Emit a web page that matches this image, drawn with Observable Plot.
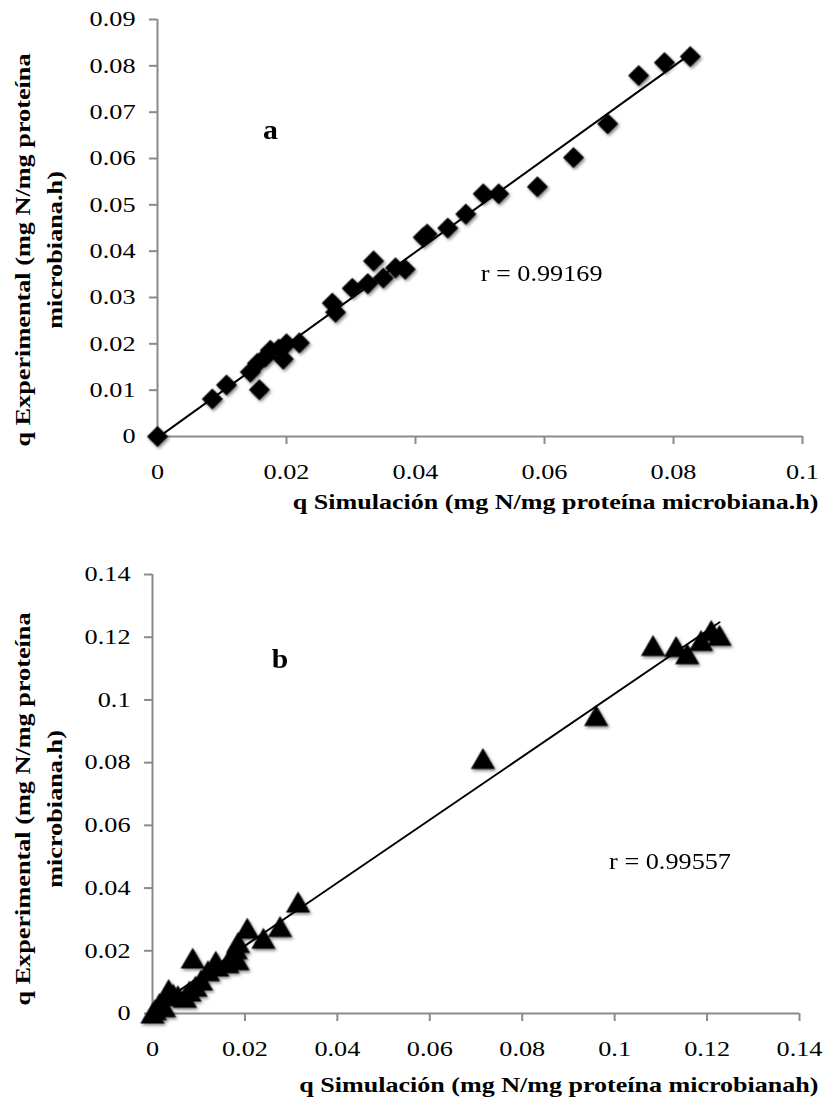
<!DOCTYPE html>
<html><head><meta charset="utf-8">
<script src="https://cdn.jsdelivr.net/npm/d3@7"></script>
<script src="https://cdn.jsdelivr.net/npm/@observablehq/plot@0.6"></script>
<style>
html,body{margin:0;padding:0;background:#fff;}
#chart{width:839px;}
#chart svg{display:block;}
</style></head>
<body><div id="chart"></div>
<script>
// ---- Panel a data ----
const simA = [0, 0.0085, 0.0107, 0.0158, 0.0144, 0.0155, 0.0167, 0.0175, 0.0188, 0.0195, 0.0200, 0.0220,
  0.0271, 0.0276, 0.0302, 0.0326, 0.0335, 0.0350, 0.0369, 0.0384, 0.0412, 0.0418, 0.0450, 0.0478,
  0.0505, 0.0529, 0.0589, 0.0645, 0.0698, 0.0746, 0.0786, 0.0826];
const expA = [0, 0.0081, 0.0111, 0.0101, 0.0139, 0.0158, 0.0171, 0.0186, 0.0189, 0.0167, 0.0200, 0.0202,
  0.0288, 0.0268, 0.0320, 0.0330, 0.0379, 0.0342, 0.0364, 0.0361, 0.0430, 0.0437, 0.0450, 0.0480,
  0.0524, 0.0524, 0.0539, 0.0602, 0.0675, 0.0779, 0.0807, 0.0820];
// ---- Panel b data ----
const simB = [0, 0.0005, 0.0015, 0.0025, 0.0035, 0.0045, 0.0055, 0.0070, 0.0080, 0.0093, 0.0087, 0.0105,
  0.0120, 0.0137, 0.0140, 0.0162, 0.0184, 0.0180, 0.0185, 0.0205, 0.0240, 0.0276, 0.0315,
  0.0715, 0.0960, 0.1083, 0.1133, 0.1157, 0.1187, 0.1209, 0.1227];
const expB = [0, 0.0010, 0.0030, 0.0020, 0.0075, 0.0060, 0.0055, 0.0050, 0.0070, 0.0085, 0.0175, 0.0105,
  0.0135, 0.0165, 0.0150, 0.0160, 0.0170, 0.0205, 0.0225, 0.0270, 0.0238, 0.0276, 0.0354,
  0.0812, 0.0949, 0.1172, 0.1169, 0.1146, 0.1188, 0.1220, 0.1205];

const xTicksA = [0, 0.02, 0.04, 0.06, 0.08, 0.1];
const yTicksA = [0, 0.01, 0.02, 0.03, 0.04, 0.05, 0.06, 0.07, 0.08, 0.09];
const ticksB = [0, 0.02, 0.04, 0.06, 0.08, 0.1, 0.12, 0.14];

const xTitleA = "q Simulación (mg N/mg proteína microbiana.h)";
const xTitleB = "q Simulación (mg N/mg proteína microbianah)";
const yTitle1 = "q Experimental (mg N/mg proteína";
const yTitle2 = "microbiana.h)";
const rA = "r = 0.99169";
const rB = "r = 0.99557";

const AXIS = "#8a8a8a";
const fmt = d => String(+d.toFixed(2));
const dataA = simA.map((s, i) => ({sim: s, exp: expA[i]}));
const dataB = simB.map((s, i) => ({sim: s, exp: expB[i]}));

function panel({data, xDomain, yDomain, xTicks, yTicks, symbol, r, dotDy, height, mt, mb, ml, mr,
                letter, letterPos, rText, rPos, xTitle, xtDx, xtDy, yt1Dx, yt2Dx, ytDy}) {
  return Plot.plot({
    width: 839, height, marginTop: mt, marginBottom: mb, marginLeft: ml, marginRight: mr,
    style: {fontFamily: "'Liberation Serif', 'Times New Roman', serif", fontSize: "21px", background: "#fff", overflow: "visible"},
    x: {domain: xDomain}, y: {domain: yDomain},
    marks: [
      Plot.ruleY([0], {stroke: AXIS, strokeWidth: 2}),
      Plot.ruleX([0], {stroke: AXIS, strokeWidth: 2}),
      Plot.axisX({ticks: xTicks, tickFormat: fmt, tickSize: 8, tickPadding: 20, stroke: AXIS, strokeWidth: 2, fill: "black", fontSize: 21, label: null}),
      Plot.axisY({ticks: yTicks, tickFormat: fmt, tickSize: 8, tickPadding: 14, stroke: AXIS, strokeWidth: 2, fill: "black", fontSize: 21, label: null}),
      Plot.linearRegressionY(data, {x: "sim", y: "exp", ci: 0, stroke: "black", strokeWidth: 2}),
      Plot.dot(data, {x: "sim", y: "exp", symbol, r, fill: "black", stroke: "none", dy: dotDy}),
      Plot.text([letter], {x: letterPos[0], y: letterPos[1], fontSize: 27, fontWeight: "bold", fill: "black", className: "ann-letter"}),
      Plot.text([rText], {x: rPos[0], y: rPos[1], textAnchor: "start", fontSize: 23, fill: "black", className: "ann-r"}),
      Plot.text([xTitle], {frameAnchor: "bottom-right", textAnchor: "end", dx: xtDx, dy: xtDy, fontSize: 21, fontWeight: "bold", fill: "black", className: "ann-title"}),
      Plot.text([yTitle1], {frameAnchor: "left", textAnchor: "middle", rotate: -90, dx: yt1Dx, dy: ytDy, fontSize: 21, fontWeight: "bold", fill: "black", className: "ann-ytitle"}),
      Plot.text([yTitle2], {frameAnchor: "left", textAnchor: "middle", rotate: -90, dx: yt2Dx, dy: ytDy, fontSize: 21, fontWeight: "bold", fill: "black", className: "ann-ytitle"})
    ]
  });
}

const svgA = panel({data: dataA, xDomain: [0, 0.1], yDomain: [0, 0.09], xTicks: xTicksA, yTicks: yTicksA,
  symbol: "diamond2", r: 9.5, dotDy: 0, height: 545, mt: 19, mb: 109, ml: 157, mr: 37,
  letter: "a", letterPos: [0.0175, 0.0661], rText: rA, rPos: [0.0501, 0.0351],
  xTitle: xTitleA, xtDx: 16, xtDy: 72, yt1Dx: -134, yt2Dx: -102, ytDy: 22});
const svgB = panel({data: dataB, xDomain: [0, 0.14], yDomain: [0, 0.14], xTicks: ticksB, yTicks: ticksB,
  symbol: "triangle", r: 9, dotDy: 3, height: 561, mt: 29, mb: 93, ml: 152, mr: 40,
  letter: "b", letterPos: [0.0276, 0.1129], rText: rB, rPos: [0.0988, 0.0484],
  xTitle: xTitleB, xtDx: 19, xtDy: 78, yt1Dx: -129, yt2Dx: -97, ytDy: 15});

const root = document.getElementById("chart");
root.append(svgA, svgB);

function stretch(svg, sel, k) {
  svg.querySelectorAll(sel).forEach(t => {
    const w = t.getComputedTextLength();
    if (w > 0) {
      t.setAttribute("textLength", (w * k).toFixed(1));
      t.setAttribute("lengthAdjust", "spacingAndGlyphs");
    }
  });
}
[svgA, svgB].forEach((svg, i) => {
  stretch(svg, 'g[aria-label$="tick label"] text', 1.25);
  stretch(svg, '.ann-title text', 1.24);
  stretch(svg, '.ann-r text', 1.14);
  stretch(svg, '.ann-letter text', 1.1);
  // rotated titles: stretch along the reading direction, keeping them centred
  svg.querySelectorAll('.ann-ytitle text').forEach(t => {
    t.setAttribute("transform", (t.getAttribute("transform") || "") + " scale(1.25,1)");
  });
  const id = "shadow" + i;
  const defs = d3.select(svg).insert("defs", ":first-child");
  defs.append("filter").attr("id", id).attr("x", "-50%").attr("y", "-50%").attr("width", "200%").attr("height", "200%")
    .append("feDropShadow").attr("dx", 1.5).attr("dy", 2).attr("stdDeviation", 1.5)
    .attr("flood-color", "#000").attr("flood-opacity", 0.45);
  svg.querySelectorAll('g[aria-label="dot"]').forEach(g => g.setAttribute("filter", `url(#${id})`));
});
</script>
</body></html>
